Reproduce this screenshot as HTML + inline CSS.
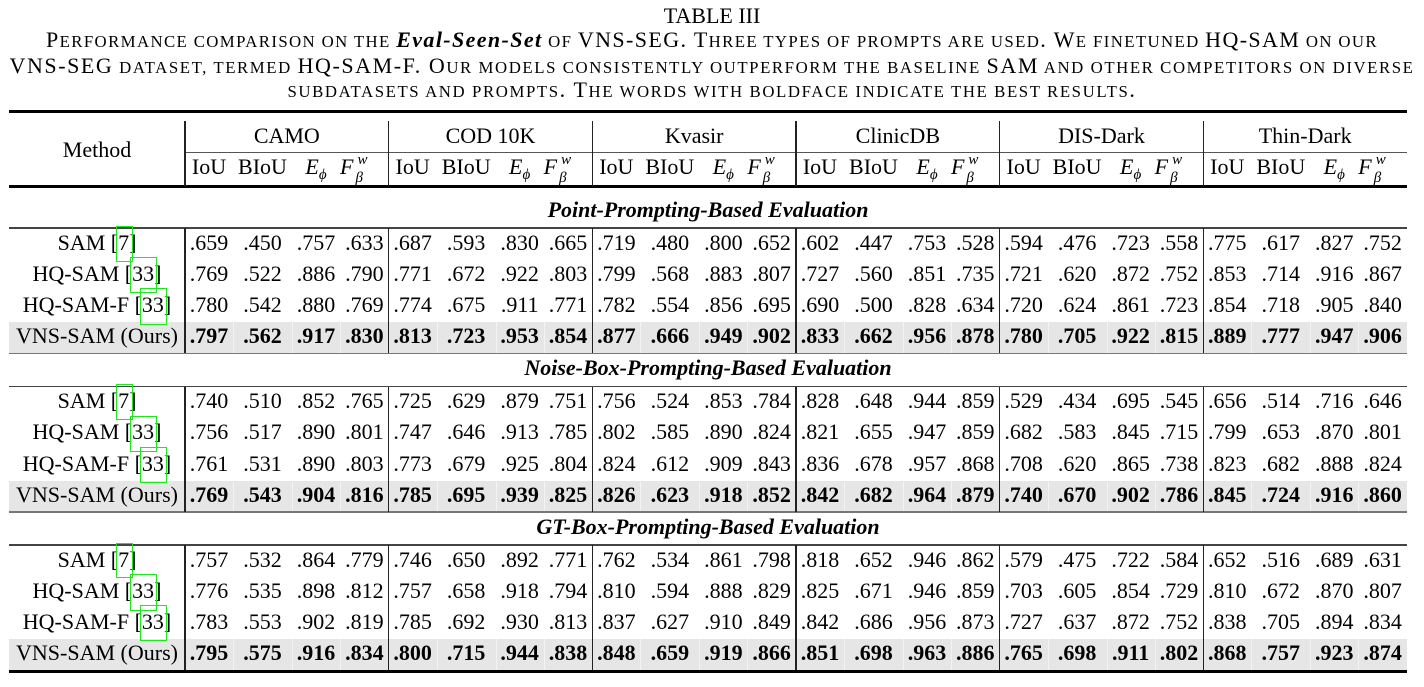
<!DOCTYPE html>
<html>
<head>
<meta charset="utf-8">
<style>
html,body{margin:0;padding:0;background:#fff;}
body{width:1424px;height:687px;position:relative;overflow:hidden;font-family:"Liberation Serif","Times New Roman",serif;color:#000;}
.cap{position:absolute;left:0;width:1424px;text-align:center;font-size:22px;line-height:24px;white-space:nowrap;}
.k{text-transform:uppercase;font-size:16.8px;}
.hl{position:absolute;left:9px;width:1398px;}
.vl{position:absolute;width:1.2px;background:#222;}
.r{position:absolute;left:9px;width:1398px;height:24px;line-height:24px;display:flex;font-size:22px;white-space:nowrap;}
.r span{flex:none;text-align:center;}
.r span.m{width:176px;}
.r span:nth-child(4n+2){width:48px;}
.r span:nth-child(4n+3){width:59px;}
.r span:nth-child(4n+4){width:48px;}
.r span:nth-child(4n+5){width:48.667px;}
.b{font-weight:bold;}
.gb{position:absolute;left:9px;width:1398px;background:#e6e6e6;}
.gs{position:absolute;width:1px;background:#f3f3f3;}
.lbl{position:absolute;left:9px;width:1398px;text-align:center;font-size:22px;line-height:24px;font-weight:bold;font-style:italic;white-space:nowrap;}
.hd{position:absolute;font-size:22px;line-height:24px;text-align:center;white-space:nowrap;}
.lk{position:absolute;border:1.3px solid #1fe61f;box-sizing:border-box;}
.sub{font-size:15px;position:relative;top:5px;font-style:italic;}
.st{display:inline-block;position:relative;width:17px;height:1px;}
.st i{position:absolute;font-size:15px;line-height:15px;}
</style>
</head>
<body>

<!-- Caption -->
<div class="cap" style="top:3.6px;">TABLE III</div>
<div class="cap cl" style="top:28.3px;"><span>P<span class="k">erformance comparison on the </span><b><i>Eval-Seen-Set</i></b><span class="k"> of </span>VNS-SEG. T<span class="k">hree types of prompts are used</span>. W<span class="k">e finetuned </span>HQ-SAM<span class="k"> on our</span></span></div>
<div class="cap cl" style="top:53.6px;"><span>VNS-SEG<span class="k"> dataset, termed </span>HQ-SAM-F. O<span class="k">ur models consistently outperform the baseline </span>SAM<span class="k"> and other competitors on diverse</span></span></div>
<div class="cap cl" style="top:78.3px;"><span><span class="k">subdatasets and prompts</span>. T<span class="k">he words with boldface indicate the best results</span>.</span></div>

<!-- Header rules -->
<div class="hl" style="top:110px;height:2.5px;background:#000;"></div>
<div style="position:absolute;left:185px;width:1222px;top:151.8px;height:1.3px;background:#555;"></div>
<div class="hl" style="top:185px;height:2.5px;background:#000;"></div>

<!-- Header vertical lines -->
<div class="vl" style="left:184.4px;top:121px;height:65px;"></div>
<div class="vl" style="left:388.1px;top:121px;height:65px;"></div>
<div class="vl" style="left:591.7px;top:121px;height:65px;"></div>
<div class="vl" style="left:795.4px;top:121px;height:65px;"></div>
<div class="vl" style="left:999.1px;top:121px;height:65px;"></div>
<div class="vl" style="left:1202.7px;top:121px;height:65px;"></div>

<!-- Header text -->
<div class="hd" style="left:9px;width:176px;top:137.6px;">Method</div>
<div class="hd" style="left:185px;width:203.67px;top:123.6px;">CAMO</div>
<div class="hd" style="left:388.67px;width:203.67px;top:123.6px;">COD 10K</div>
<div class="hd" style="left:592.33px;width:203.67px;top:123.6px;">Kvasir</div>
<div class="hd" style="left:796px;width:203.67px;top:123.6px;">ClinicDB</div>
<div class="hd" style="left:999.67px;width:203.67px;top:123.6px;">DIS-Dark</div>
<div class="hd" style="left:1203.33px;width:203.67px;top:123.6px;">Thin-Dark</div>

<div class="r" style="top:154.6px;"><span class="m"></span>
<span>IoU</span><span>BIoU</span><span><i>E</i><span class="sub">ϕ</span></span><span><i>F</i><span class="st"><i style="top:-20px;left:4px;">w</i><i style="top:-2px;left:2px;">β</i></span></span>
<span>IoU</span><span>BIoU</span><span><i>E</i><span class="sub">ϕ</span></span><span><i>F</i><span class="st"><i style="top:-20px;left:4px;">w</i><i style="top:-2px;left:2px;">β</i></span></span>
<span>IoU</span><span>BIoU</span><span><i>E</i><span class="sub">ϕ</span></span><span><i>F</i><span class="st"><i style="top:-20px;left:4px;">w</i><i style="top:-2px;left:2px;">β</i></span></span>
<span>IoU</span><span>BIoU</span><span><i>E</i><span class="sub">ϕ</span></span><span><i>F</i><span class="st"><i style="top:-20px;left:4px;">w</i><i style="top:-2px;left:2px;">β</i></span></span>
<span>IoU</span><span>BIoU</span><span><i>E</i><span class="sub">ϕ</span></span><span><i>F</i><span class="st"><i style="top:-20px;left:4px;">w</i><i style="top:-2px;left:2px;">β</i></span></span>
<span>IoU</span><span>BIoU</span><span><i>E</i><span class="sub">ϕ</span></span><span><i>F</i><span class="st"><i style="top:-20px;left:4px;">w</i><i style="top:-2px;left:2px;">β</i></span></span>
</div>

<!-- ============ Section 1 (top 228) ============ -->
<div class="lbl" style="top:197.6px;">Point-Prompting-Based Evaluation</div>
<div class="hl" style="top:227.4px;height:1.3px;background:#444;"></div>
<div class="gb" style="top:322.3px;height:30.4px;"></div>
<div class="gs" style="left:233px;top:322.3px;height:30.4px;"></div><div class="gs" style="left:292px;top:322.3px;height:30.4px;"></div><div class="gs" style="left:340px;top:322.3px;height:30.4px;"></div>
<div class="gs" style="left:436.7px;top:322.3px;height:30.4px;"></div><div class="gs" style="left:495.7px;top:322.3px;height:30.4px;"></div><div class="gs" style="left:543.7px;top:322.3px;height:30.4px;"></div>
<div class="gs" style="left:640.3px;top:322.3px;height:30.4px;"></div><div class="gs" style="left:699.3px;top:322.3px;height:30.4px;"></div><div class="gs" style="left:747.3px;top:322.3px;height:30.4px;"></div>
<div class="gs" style="left:844px;top:322.3px;height:30.4px;"></div><div class="gs" style="left:903px;top:322.3px;height:30.4px;"></div><div class="gs" style="left:951px;top:322.3px;height:30.4px;"></div>
<div class="gs" style="left:1047.7px;top:322.3px;height:30.4px;"></div><div class="gs" style="left:1106.7px;top:322.3px;height:30.4px;"></div><div class="gs" style="left:1154.7px;top:322.3px;height:30.4px;"></div>
<div class="gs" style="left:1251.3px;top:322.3px;height:30.4px;"></div><div class="gs" style="left:1310.3px;top:322.3px;height:30.4px;"></div><div class="gs" style="left:1358.3px;top:322.3px;height:30.4px;"></div>
<div class="hl" style="top:352.5px;height:1.6px;background:#777;"></div>
<div class="vl" style="left:184.4px;top:228px;height:125px;"></div>
<div class="vl" style="left:388.1px;top:228px;height:125px;"></div>
<div class="vl" style="left:591.7px;top:228px;height:125px;"></div>
<div class="vl" style="left:795.4px;top:228px;height:125px;"></div>
<div class="vl" style="left:999.1px;top:228px;height:125px;"></div>
<div class="vl" style="left:1202.7px;top:228px;height:125px;"></div>

<div class="r" style="top:230.6px;"><span class="m">SAM [7]</span><span>.659</span><span>.450</span><span>.757</span><span>.633</span><span>.687</span><span>.593</span><span>.830</span><span>.665</span><span>.719</span><span>.480</span><span>.800</span><span>.652</span><span>.602</span><span>.447</span><span>.753</span><span>.528</span><span>.594</span><span>.476</span><span>.723</span><span>.558</span><span>.775</span><span>.617</span><span>.827</span><span>.752</span></div>
<div class="r" style="top:261.8px;"><span class="m">HQ-SAM [33]</span><span>.769</span><span>.522</span><span>.886</span><span>.790</span><span>.771</span><span>.672</span><span>.922</span><span>.803</span><span>.799</span><span>.568</span><span>.883</span><span>.807</span><span>.727</span><span>.560</span><span>.851</span><span>.735</span><span>.721</span><span>.620</span><span>.872</span><span>.752</span><span>.853</span><span>.714</span><span>.916</span><span>.867</span></div>
<div class="r" style="top:293px;"><span class="m">HQ-SAM-F [33]</span><span>.780</span><span>.542</span><span>.880</span><span>.769</span><span>.774</span><span>.675</span><span>.911</span><span>.771</span><span>.782</span><span>.554</span><span>.856</span><span>.695</span><span>.690</span><span>.500</span><span>.828</span><span>.634</span><span>.720</span><span>.624</span><span>.861</span><span>.723</span><span>.854</span><span>.718</span><span>.905</span><span>.840</span></div>
<div class="r" style="top:324.2px;"><span class="m">VNS-SAM (Ours)</span><span class="b">.797</span><span class="b">.562</span><span class="b">.917</span><span class="b">.830</span><span class="b">.813</span><span class="b">.723</span><span class="b">.953</span><span class="b">.854</span><span class="b">.877</span><span class="b">.666</span><span class="b">.949</span><span class="b">.902</span><span class="b">.833</span><span class="b">.662</span><span class="b">.956</span><span class="b">.878</span><span class="b">.780</span><span class="b">.705</span><span class="b">.922</span><span class="b">.815</span><span class="b">.889</span><span class="b">.777</span><span class="b">.947</span><span class="b">.906</span></div>
<div class="lk" style="left:116px;top:226px;width:17px;height:36px;"></div>
<div class="lk" style="left:130px;top:257px;width:27px;height:36px;"></div>
<div class="lk" style="left:140px;top:288px;width:27px;height:37px;"></div>

<!-- ============ Section 2 (top 386.5) ============ -->
<div class="lbl" style="top:356.1px;">Noise-Box-Prompting-Based Evaluation</div>
<div class="hl" style="top:385.9px;height:1.3px;background:#444;"></div>
<div class="gb" style="top:480.8px;height:30.4px;"></div>
<div class="gs" style="left:233px;top:480.8px;height:30.4px;"></div><div class="gs" style="left:292px;top:480.8px;height:30.4px;"></div><div class="gs" style="left:340px;top:480.8px;height:30.4px;"></div>
<div class="gs" style="left:436.7px;top:480.8px;height:30.4px;"></div><div class="gs" style="left:495.7px;top:480.8px;height:30.4px;"></div><div class="gs" style="left:543.7px;top:480.8px;height:30.4px;"></div>
<div class="gs" style="left:640.3px;top:480.8px;height:30.4px;"></div><div class="gs" style="left:699.3px;top:480.8px;height:30.4px;"></div><div class="gs" style="left:747.3px;top:480.8px;height:30.4px;"></div>
<div class="gs" style="left:844px;top:480.8px;height:30.4px;"></div><div class="gs" style="left:903px;top:480.8px;height:30.4px;"></div><div class="gs" style="left:951px;top:480.8px;height:30.4px;"></div>
<div class="gs" style="left:1047.7px;top:480.8px;height:30.4px;"></div><div class="gs" style="left:1106.7px;top:480.8px;height:30.4px;"></div><div class="gs" style="left:1154.7px;top:480.8px;height:30.4px;"></div>
<div class="gs" style="left:1251.3px;top:480.8px;height:30.4px;"></div><div class="gs" style="left:1310.3px;top:480.8px;height:30.4px;"></div><div class="gs" style="left:1358.3px;top:480.8px;height:30.4px;"></div>
<div class="hl" style="top:511px;height:1.6px;background:#777;"></div>
<div class="vl" style="left:184.4px;top:386.5px;height:125px;"></div>
<div class="vl" style="left:388.1px;top:386.5px;height:125px;"></div>
<div class="vl" style="left:591.7px;top:386.5px;height:125px;"></div>
<div class="vl" style="left:795.4px;top:386.5px;height:125px;"></div>
<div class="vl" style="left:999.1px;top:386.5px;height:125px;"></div>
<div class="vl" style="left:1202.7px;top:386.5px;height:125px;"></div>

<div class="r" style="top:389.1px;"><span class="m">SAM [7]</span><span>.740</span><span>.510</span><span>.852</span><span>.765</span><span>.725</span><span>.629</span><span>.879</span><span>.751</span><span>.756</span><span>.524</span><span>.853</span><span>.784</span><span>.828</span><span>.648</span><span>.944</span><span>.859</span><span>.529</span><span>.434</span><span>.695</span><span>.545</span><span>.656</span><span>.514</span><span>.716</span><span>.646</span></div>
<div class="r" style="top:420.3px;"><span class="m">HQ-SAM [33]</span><span>.756</span><span>.517</span><span>.890</span><span>.801</span><span>.747</span><span>.646</span><span>.913</span><span>.785</span><span>.802</span><span>.585</span><span>.890</span><span>.824</span><span>.821</span><span>.655</span><span>.947</span><span>.859</span><span>.682</span><span>.583</span><span>.845</span><span>.715</span><span>.799</span><span>.653</span><span>.870</span><span>.801</span></div>
<div class="r" style="top:451.5px;"><span class="m">HQ-SAM-F [33]</span><span>.761</span><span>.531</span><span>.890</span><span>.803</span><span>.773</span><span>.679</span><span>.925</span><span>.804</span><span>.824</span><span>.612</span><span>.909</span><span>.843</span><span>.836</span><span>.678</span><span>.957</span><span>.868</span><span>.708</span><span>.620</span><span>.865</span><span>.738</span><span>.823</span><span>.682</span><span>.888</span><span>.824</span></div>
<div class="r" style="top:482.7px;"><span class="m">VNS-SAM (Ours)</span><span class="b">.769</span><span class="b">.543</span><span class="b">.904</span><span class="b">.816</span><span class="b">.785</span><span class="b">.695</span><span class="b">.939</span><span class="b">.825</span><span class="b">.826</span><span class="b">.623</span><span class="b">.918</span><span class="b">.852</span><span class="b">.842</span><span class="b">.682</span><span class="b">.964</span><span class="b">.879</span><span class="b">.740</span><span class="b">.670</span><span class="b">.902</span><span class="b">.786</span><span class="b">.845</span><span class="b">.724</span><span class="b">.916</span><span class="b">.860</span></div>
<div class="lk" style="left:116px;top:384px;width:17px;height:36px;"></div>
<div class="lk" style="left:130px;top:416px;width:27px;height:36px;"></div>
<div class="lk" style="left:140px;top:447px;width:27px;height:36px;"></div>

<!-- ============ Section 3 (top 545) ============ -->
<div class="lbl" style="top:514.6px;">GT-Box-Prompting-Based Evaluation</div>
<div class="hl" style="top:544.4px;height:1.3px;background:#444;"></div>
<div class="gb" style="top:639.3px;height:31px;"></div>
<div class="gs" style="left:233px;top:639.3px;height:31px;"></div><div class="gs" style="left:292px;top:639.3px;height:31px;"></div><div class="gs" style="left:340px;top:639.3px;height:31px;"></div>
<div class="gs" style="left:436.7px;top:639.3px;height:31px;"></div><div class="gs" style="left:495.7px;top:639.3px;height:31px;"></div><div class="gs" style="left:543.7px;top:639.3px;height:31px;"></div>
<div class="gs" style="left:640.3px;top:639.3px;height:31px;"></div><div class="gs" style="left:699.3px;top:639.3px;height:31px;"></div><div class="gs" style="left:747.3px;top:639.3px;height:31px;"></div>
<div class="gs" style="left:844px;top:639.3px;height:31px;"></div><div class="gs" style="left:903px;top:639.3px;height:31px;"></div><div class="gs" style="left:951px;top:639.3px;height:31px;"></div>
<div class="gs" style="left:1047.7px;top:639.3px;height:31px;"></div><div class="gs" style="left:1106.7px;top:639.3px;height:31px;"></div><div class="gs" style="left:1154.7px;top:639.3px;height:31px;"></div>
<div class="gs" style="left:1251.3px;top:639.3px;height:31px;"></div><div class="gs" style="left:1310.3px;top:639.3px;height:31px;"></div><div class="gs" style="left:1358.3px;top:639.3px;height:31px;"></div>
<div class="hl" style="top:670px;height:2.6px;background:#000;"></div>
<div class="vl" style="left:184.4px;top:545px;height:125px;"></div>
<div class="vl" style="left:388.1px;top:545px;height:125px;"></div>
<div class="vl" style="left:591.7px;top:545px;height:125px;"></div>
<div class="vl" style="left:795.4px;top:545px;height:125px;"></div>
<div class="vl" style="left:999.1px;top:545px;height:125px;"></div>
<div class="vl" style="left:1202.7px;top:545px;height:125px;"></div>

<div class="r" style="top:547.6px;"><span class="m">SAM [7]</span><span>.757</span><span>.532</span><span>.864</span><span>.779</span><span>.746</span><span>.650</span><span>.892</span><span>.771</span><span>.762</span><span>.534</span><span>.861</span><span>.798</span><span>.818</span><span>.652</span><span>.946</span><span>.862</span><span>.579</span><span>.475</span><span>.722</span><span>.584</span><span>.652</span><span>.516</span><span>.689</span><span>.631</span></div>
<div class="r" style="top:578.8px;"><span class="m">HQ-SAM [33]</span><span>.776</span><span>.535</span><span>.898</span><span>.812</span><span>.757</span><span>.658</span><span>.918</span><span>.794</span><span>.810</span><span>.594</span><span>.888</span><span>.829</span><span>.825</span><span>.671</span><span>.946</span><span>.859</span><span>.703</span><span>.605</span><span>.854</span><span>.729</span><span>.810</span><span>.672</span><span>.870</span><span>.807</span></div>
<div class="r" style="top:610px;"><span class="m">HQ-SAM-F [33]</span><span>.783</span><span>.553</span><span>.902</span><span>.819</span><span>.785</span><span>.692</span><span>.930</span><span>.813</span><span>.837</span><span>.627</span><span>.910</span><span>.849</span><span>.842</span><span>.686</span><span>.956</span><span>.873</span><span>.727</span><span>.637</span><span>.872</span><span>.752</span><span>.838</span><span>.705</span><span>.894</span><span>.834</span></div>
<div class="r" style="top:641.2px;"><span class="m">VNS-SAM (Ours)</span><span class="b">.795</span><span class="b">.575</span><span class="b">.916</span><span class="b">.834</span><span class="b">.800</span><span class="b">.715</span><span class="b">.944</span><span class="b">.838</span><span class="b">.848</span><span class="b">.659</span><span class="b">.919</span><span class="b">.866</span><span class="b">.851</span><span class="b">.698</span><span class="b">.963</span><span class="b">.886</span><span class="b">.765</span><span class="b">.698</span><span class="b">.911</span><span class="b">.802</span><span class="b">.868</span><span class="b">.757</span><span class="b">.923</span><span class="b">.874</span></div>
<div class="lk" style="left:116px;top:543px;width:17px;height:35px;"></div>
<div class="lk" style="left:130px;top:574px;width:27px;height:37px;"></div>
<div class="lk" style="left:140px;top:605px;width:27px;height:36px;"></div>

<script>
(function(){
  var T=[1332,1405,849];
  var els=document.querySelectorAll('.cl');
  for(var i=0;i<els.length;i++){
    var s=els[i].firstElementChild;
    var w=s.getBoundingClientRect().width;
    var n=s.textContent.length;
    if(n>1){
      var ls=(T[i]-w)/n;
      s.style.letterSpacing=ls+'px';
      var kids=s.querySelectorAll('*');
      for(var j=0;j<kids.length;j++){kids[j].style.letterSpacing=ls+'px';}
    }
  }
})();
</script>
</body>
</html>
